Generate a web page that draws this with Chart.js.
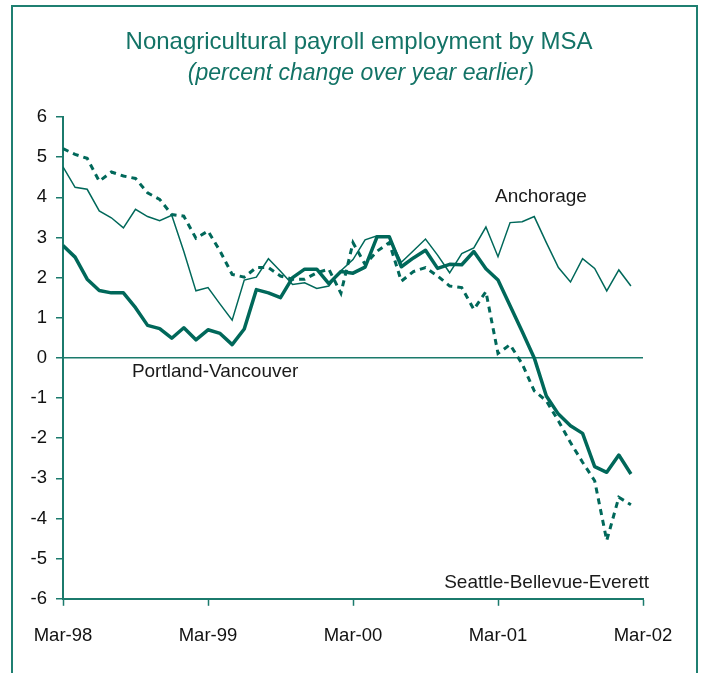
<!DOCTYPE html>
<html>
<head>
<meta charset="utf-8">
<script src="https://cdn.jsdelivr.net/npm/chart.js@4.4.1/dist/chart.umd.min.js"></script>
<style>
  html, body { margin: 0; padding: 0; background: #ffffff; width: 711px; height: 673px; overflow: hidden; }
  #wrap { position: relative; width: 711px; height: 673px; }
  #frame { position: absolute; left: 11px; top: 5px; width: 687px; height: 720px; border: 2px solid #1f7f71; box-sizing: border-box; }
  canvas { position: absolute; left: 0; top: 0; }
</style>
</head>
<body>
<div id="wrap">
  <div id="frame"></div>
  <canvas id="c" width="711" height="673"></canvas>
</div>
<script>
// ---- Data ----
const months = [
  'Mar-98','Apr-98','May-98','Jun-98','Jul-98','Aug-98','Sep-98','Oct-98','Nov-98','Dec-98',
  'Jan-99','Feb-99','Mar-99','Apr-99','May-99','Jun-99','Jul-99','Aug-99','Sep-99','Oct-99','Nov-99','Dec-99',
  'Jan-00','Feb-00','Mar-00','Apr-00','May-00','Jun-00','Jul-00','Aug-00','Sep-00','Oct-00','Nov-00','Dec-00',
  'Jan-01','Feb-01','Mar-01','Apr-01','May-01','Jun-01','Jul-01','Aug-01','Sep-01','Oct-01','Nov-01','Dec-01',
  'Jan-02','Feb-02','Mar-02'
];

const anchorage = [
  4.76, 4.25, 4.20, 3.66, 3.49, 3.24, 3.70, 3.52, 3.42, 3.55, 2.65, 1.67,
  1.75, 1.34, 0.94, 1.94, 2.01, 2.47, 2.16, 1.83, 1.87, 1.73, 1.79, 2.17,
  2.45, 2.94, 3.04, 3.01, 2.38, 2.67, 2.96, 2.56, 2.12, 2.60, 2.74, 3.26,
  2.52, 3.37, 3.39, 3.52, 2.87, 2.25, 1.89, 2.47, 2.23, 1.67, 2.19, 1.79
];

const portlandVancouver = [
  2.80, 2.51, 1.96, 1.68, 1.62, 1.62, 1.25, 0.81, 0.73, 0.49, 0.75, 0.45,
  0.70, 0.61, 0.33, 0.72, 1.70, 1.62, 1.50, 2.00, 2.21, 2.21, 1.85, 2.15,
  2.11, 2.26, 3.02, 3.02, 2.27, 2.49, 2.68, 2.23, 2.33, 2.32, 2.65, 2.22,
  1.94, 1.30, 0.66, 0.00, -0.95, -1.40, -1.69, -1.88, -2.71, -2.85, -2.42, -2.89
];

const seattleBellevueEverett = [
  5.21, 5.07, 4.97, 4.40, 4.63, 4.53, 4.47, 4.11, 3.95, 3.57, 3.53, 2.98,
  3.16, 2.66, 2.08, 2.01, 2.25, 2.25, 2.04, 1.96, 1.96, 2.12, 2.21, 1.61,
  2.87, 2.33, 2.66, 2.87, 1.91, 2.15, 2.25, 2.04, 1.79, 1.75, 1.21, 1.65,
  0.11, 0.33, -0.15, -0.82, -1.07, -1.57, -2.11, -2.60, -3.06, -4.55, -3.47, -3.66
];

const seriesNames = ['Anchorage', 'Portland-Vancouver', 'Seattle-Bellevue-Everett'];
const titleText = 'Nonagricultural payroll employment by MSA';
const subtitleText = '(percent change over year earlier)';

// ---- Styles ----
const lineColor = '#00685a';
const axisColor = '#1b7a6c';
const titleColor = '#137366';
const fontFamily = '"Liberation Sans", Arial, Helvetica, sans-serif';

// label placement in data coordinates (x = month index, y = percent)
const labelPlacement = [
  { name: seriesNames[0], x: 35.75, y: 3.88, align: 'left' },
  { name: seriesNames[1], x: 5.70, y: -0.47, align: 'left' },
  { name: seriesNames[2], x: 48.5, y: -5.73, align: 'right' }
];

const toPoints = arr => arr.map((v, i) => ({ x: i, y: v }));

const textPlugin = {
  id: 'textPlugin',
  afterDraw(chart) {
    const ctx = chart.ctx;
    const xs = chart.scales.x, ys = chart.scales.y;
    ctx.save();
    ctx.textBaseline = 'alphabetic';
    // title + subtitle
    ctx.fillStyle = titleColor;
    ctx.textAlign = 'center';
    ctx.font = '24px ' + fontFamily;
    ctx.fillText(titleText, 359, 48.5);
    ctx.font = 'italic 23px ' + fontFamily;
    ctx.fillText(subtitleText, 361, 80);
    // series labels
    ctx.fillStyle = '#1a1a1a';
    ctx.font = '19px ' + fontFamily;
    labelPlacement.forEach(l => {
      ctx.textAlign = l.align;
      ctx.fillText(l.name, xs.getPixelForValue(l.x), ys.getPixelForValue(l.y));
    });
    ctx.restore();
  }
};

new Chart(document.getElementById('c').getContext('2d'), {
  type: 'line',
  data: {
    datasets: [
      { label: seriesNames[0], data: toPoints(anchorage), borderColor: lineColor, borderWidth: 1.5,
        pointRadius: 0, tension: 0, fill: false },
      { label: seriesNames[1], data: toPoints(portlandVancouver), borderColor: lineColor, borderWidth: 3.5,
        pointRadius: 0, tension: 0, fill: false, borderJoinStyle: 'round' },
      { label: seriesNames[2], data: toPoints(seattleBellevueEverett), borderColor: lineColor, borderWidth: 3,
        borderDash: [6, 5], pointRadius: 0, tension: 0, fill: false }
    ]
  },
  options: {
    responsive: false,
    animation: false,
    devicePixelRatio: 1,
    layout: { padding: { top: 117, right: 68, bottom: 7, left: 0 } },
    plugins: {
      legend: { display: false },
      tooltip: { enabled: false },
      title: { display: false }
    },
    scales: {
      x: {
        type: 'linear',
        min: 0,
        max: months.length - 1,
        grid: { drawOnChartArea: false, drawTicks: true, tickLength: 7, tickColor: axisColor, tickWidth: 1.5 },
        border: { display: true, color: axisColor, width: 2 },
        ticks: {
          stepSize: 12, autoSkip: false, maxRotation: 0, padding: 19,
          color: '#111111', font: { family: fontFamily, size: 18.5 },
          callback: v => months[v] || ''
        }
      },
      y: {
        min: -6,
        max: 6,
        afterFit: s => { s.width = 63; },
        grid: {
          drawOnChartArea: true,
          color: c => (c.tick && c.tick.value === 0) ? axisColor : 'rgba(0,0,0,0)',
          lineWidth: 1.5,
          drawTicks: true, tickLength: 7, tickColor: axisColor, tickWidth: 1.5
        },
        border: { display: true, color: axisColor, width: 2 },
        ticks: {
          stepSize: 1, padding: 9,
          color: '#111111', font: { family: fontFamily, size: 18.5 },
          callback: v => String(v)
        }
      }
    }
  },
  plugins: [textPlugin]
});
</script>
</body>
</html>
